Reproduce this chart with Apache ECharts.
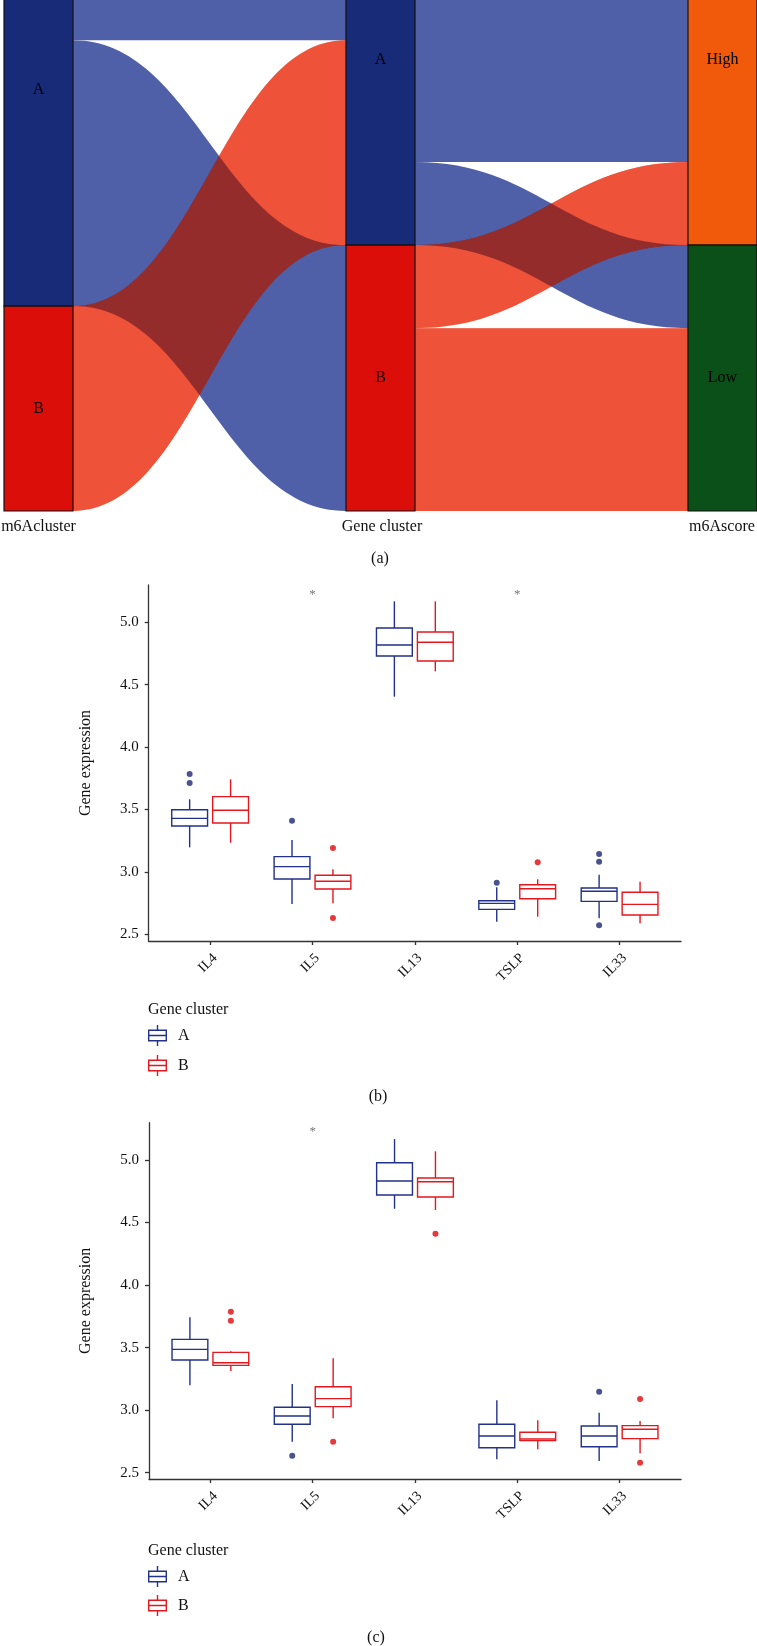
<!DOCTYPE html>
<html><head><meta charset="utf-8">
<script src="https://cdn.jsdelivr.net/npm/echarts@6/dist/echarts.min.js"></script>
<style>html,body{margin:0;padding:0;background:#fff}#c{width:757px;height:1646px}</style>
</head><body><div id="c"></div>
<script>
// ===================== DATA =====================
// (a) alluvial / sankey
const sankeyColumns = ['m6Acluster', 'Gene cluster', 'm6Ascore'];
const sankeyNodeIds = ['m6A-A', 'm6A-B', 'gene-A', 'gene-B', 'score-High', 'score-Low'];
const sankeyNodeLabels = ['A', 'B', 'A', 'B', 'High', 'Low'];
const flowSource = ['m6A-A', 'm6A-A', 'm6A-B', 'gene-A', 'gene-A', 'gene-B', 'gene-B'];
const flowTarget = ['gene-A', 'gene-B', 'gene-A', 'score-High', 'score-Low', 'score-High', 'score-Low'];
const flowCount  = [30, 48, 37, 52, 15, 15, 33];

// (b)/(c) boxplots: per gene [lower whisker, Q1, median, Q3, upper whisker]
const genes = ['IL4', 'IL5', 'IL13', 'TSLP', 'IL33'];
const yTicks = [2.5, 3.0, 3.5, 4.0, 4.5, 5.0];

const bBoxA = [
  [3.197, 3.368, 3.429, 3.498, 3.582],
  [2.743, 2.943, 3.042, 3.122, 3.256],
  [4.404, 4.730, 4.818, 4.954, 5.168],
  [2.601, 2.700, 2.748, 2.769, 2.877],
  [2.628, 2.764, 2.845, 2.871, 2.978]
];
const bBoxB = [
  [3.234, 3.392, 3.494, 3.603, 3.742],
  [2.748, 2.863, 2.925, 2.973, 3.021],
  [4.607, 4.690, 4.840, 4.922, 5.168],
  [2.641, 2.785, 2.865, 2.897, 2.941],
  [2.588, 2.655, 2.740, 2.837, 2.921]
];
const bOutA = [['IL4', 3.784], ['IL4', 3.712], ['IL5', 3.410], ['TSLP', 2.914], ['IL33', 3.143], ['IL33', 3.082], ['IL33', 2.572]];
const bOutB = [['IL5', 3.192], ['IL5', 2.631], ['TSLP', 3.077]];
const bStars = ['IL5', 'TSLP'];

const cBoxA = [
  [3.199, 3.401, 3.486, 3.566, 3.742],
  [2.748, 2.887, 2.953, 3.023, 3.209],
  [4.610, 4.720, 4.832, 4.978, 5.167],
  [2.607, 2.700, 2.793, 2.887, 3.079],
  [2.594, 2.708, 2.793, 2.873, 2.980]
];
const cBoxB = [
  [3.313, 3.358, 3.379, 3.462, 3.470],
  [2.935, 3.028, 3.092, 3.187, 3.414],
  [4.600, 4.704, 4.826, 4.856, 5.069],
  [2.687, 2.756, 2.769, 2.823, 2.919],
  [2.655, 2.772, 2.847, 2.876, 2.913]
];
const cOutA = [['IL5', 2.636], ['IL33', 3.147]];
const cOutB = [['IL4', 3.787], ['IL4', 3.715], ['IL5', 2.748], ['IL13', 4.411], ['IL33', 3.089], ['IL33', 2.580]];
const cStars = ['IL5'];
const starLevel = 5.225;

// ===================== STYLE =====================
const SERIF = '"Liberation Serif", "DejaVu Serif", serif';
const nodeColor = {
  'm6A-A': '#172B78', 'm6A-B': '#DC0E0A', 'gene-A': '#172B78', 'gene-B': '#DC0E0A',
  'score-High': '#F05A0A', 'score-Low': '#0B5018'
};
const FLOW_BLUE = '#5060A8';
const FLOW_RED_MULT = 'rgb(236,111,64)';
const FLOW_RED_TOP = 'rgb(242,47,47)';
const COL_A = '#223189', COL_B = '#E5171E';
const DOT_A = '#1B2873', DOT_B = '#E0080C';
const DODGE = 0.2, BOX_W = 0.35;
const BOX_ICON = 'path://M8.8,0H10.2V4.5H19V16.5H10.2V21H8.8V16.5H0V4.5H8.8Z M1.4,5.9V15.1H17.6V5.9Z M1.4,9.8H17.6V11.2H1.4Z';

function isBlueFlow(i) { return flowSource[i].endsWith('-A'); }

function sankeyLayer(layer) {
  // layer 0: nodes + blue flows; layer 1: red flows (multiply); layer 2: red flows (overlay)
  const s = {
    type: 'sankey', left: 4, top: -126, width: 753, height: 637,
    nodeWidth: 69, nodeGap: 0, layoutIterations: 0, draggable: false,
    emphasis: { disabled: true },
    lineStyle: { curveness: 0.45 },
    label: { show: layer === 0, position: 'inside', color: '#000', fontSize: 16, fontFamily: SERIF },
    data: sankeyNodeIds.map((id, i) => ({
      name: id,
      itemStyle: layer === 0
        ? { color: nodeColor[id], borderColor: '#111', borderWidth: 1.2 }
        : { color: nodeColor[id], opacity: 0, borderWidth: 0 },
      label: { formatter: sankeyNodeLabels[i] }
    })),
    links: flowCount.map((v, i) => {
      const blue = isBlueFlow(i);
      let ls;
      if (layer === 0) ls = blue ? { color: FLOW_BLUE, opacity: 1 } : { color: FLOW_BLUE, opacity: 0 };
      else if (layer === 1) ls = blue ? { color: FLOW_RED_MULT, opacity: 0 } : { color: FLOW_RED_MULT, opacity: 1 };
      else ls = blue ? { color: FLOW_RED_TOP, opacity: 0 } : { color: FLOW_RED_TOP, opacity: 0.45 };
      return { source: flowSource[i], target: flowTarget[i], value: v, lineStyle: ls };
    })
  };
  if (layer === 1) s.blendMode = 'multiply';
  return s;
}

function boxRenderer(color) {
  return function (params, api) {
    const x = api.value(0);
    const lo = api.coord([x, api.value(1)]);
    const q1 = api.coord([x, api.value(2)]);
    const md = api.coord([x, api.value(3)]);
    const q3 = api.coord([x, api.value(4)]);
    const hi = api.coord([x, api.value(5)]);
    const hw = api.size([BOX_W, 0])[0] / 2;
    const st = { stroke: color, lineWidth: 1.4, fill: null };
    return {
      type: 'group', children: [
        { type: 'line', shape: { x1: lo[0], y1: lo[1], x2: q1[0], y2: q1[1] }, style: st },
        { type: 'line', shape: { x1: q3[0], y1: q3[1], x2: hi[0], y2: hi[1] }, style: st },
        { type: 'rect', shape: { x: q1[0] - hw, y: q3[1], width: 2 * hw, height: q1[1] - q3[1] }, style: { stroke: color, lineWidth: 1.4, fill: '#fff' } },
        { type: 'line', shape: { x1: md[0] - hw, y1: md[1], x2: md[0] + hw, y2: md[1] }, style: st }
      ]
    };
  };
}

function boxSeries(name, boxes, off, color, gi) {
  return {
    type: 'custom', name: name, xAxisIndex: gi, yAxisIndex: gi,
    itemStyle: { color: color },
    renderItem: boxRenderer(color),
    encode: { x: 0, y: [1, 2, 3, 4, 5] },
    data: boxes.map((b, i) => [i + 1 + off].concat(b)),
    silent: true
  };
}
function outSeries(name, pts, off, color, gi) {
  return {
    type: 'scatter', name: name, xAxisIndex: gi, yAxisIndex: gi,
    symbol: 'circle', symbolSize: 6, itemStyle: { color: color },
    data: pts.map(p => [genes.indexOf(p[0]) + 1 + off, p[1]]),
    silent: true, z: 3
  };
}
function starSeries(list, gi) {
  return {
    type: 'scatter', name: 'sig', xAxisIndex: gi, yAxisIndex: gi,
    symbol: 'circle', symbolSize: 1, itemStyle: { color: 'rgba(0,0,0,0)' },
    label: { show: true, position: 'inside', formatter: '*', fontSize: 13, color: '#555', fontFamily: SERIF },
    data: list.map(g => [genes.indexOf(g) + 1, starLevel]),
    silent: true, z: 4
  };
}

const axisLineStyle = { color: '#333', width: 1.3 };
function xAx(gi) {
  return {
    gridIndex: gi, type: 'value', min: 0.4, max: 5.6,
    axisLine: { show: true, onZero: false, lineStyle: axisLineStyle },
    axisTick: { show: true, length: 4, customValues: [1, 2, 3, 4, 5], lineStyle: axisLineStyle },
    axisLabel: {
      customValues: [1, 2, 3, 4, 5], formatter: v => genes[Math.round(v) - 1] || '',
      rotate: 45, align: 'right', verticalAlign: 'top', margin: 10,
      fontSize: 14, fontFamily: SERIF, color: '#111'
    },
    splitLine: { show: false }
  };
}
function yAx(gi, mn, mx) {
  return {
    gridIndex: gi, type: 'value', min: mn, max: mx,
    axisLine: { show: true, onZero: false, lineStyle: axisLineStyle },
    axisTick: { show: true, length: 4, customValues: yTicks, lineStyle: axisLineStyle },
    axisLabel: {
      customValues: yTicks, formatter: v => v.toFixed(1), margin: 10,
      fontSize: 15, fontFamily: SERIF, color: '#111'
    },
    splitLine: { show: false },
    name: 'Gene expression', nameLocation: 'middle', nameGap: 55,
    nameTextStyle: { fontSize: 16, fontFamily: SERIF, color: '#111' }
  };
}
function legendFor(top, gap) {
  return {
    orient: 'vertical', left: 148, top: top, padding: 0, itemGap: gap,
    itemWidth: 19, itemHeight: 21, selectedMode: false,
    textStyle: { fontSize: 16, fontFamily: SERIF, color: '#111', padding: [0, 0, 0, 6] },
    data: [
      { name: 'A', icon: BOX_ICON, itemStyle: { color: COL_A, borderWidth: 0 } },
      { name: 'B', icon: BOX_ICON, itemStyle: { color: COL_B, borderWidth: 0 } }
    ]
  };
}
function txt(s, x, y, align) {
  return { type: 'text', x: x, y: y, silent: true,
    style: { text: s, fontSize: 16, fontFamily: SERIF, fill: '#111', align: align || 'center', verticalAlign: 'middle' } };
}

const chart = echarts.init(document.getElementById('c'), null, { renderer: 'canvas' });
chart.setOption({
  animation: false,
  backgroundColor: '#fff',
  grid: [
    { left: 148.7, top: 585, width: 532.3, height: 356, outerBoundsMode: 'none' },
    { left: 149, top: 1122.7, width: 532, height: 356.3, outerBoundsMode: 'none' }
  ],
  xAxis: [xAx(0), xAx(1)],
  yAxis: [yAx(0, 2.4463, 5.2989), yAx(1, 2.4496, 5.298)],
  legend: [legendFor(1025, 9), legendFor(1566, 8)],
  graphic: [
    txt(sankeyColumns[0], 38.5, 527),
    txt(sankeyColumns[1], 382, 527),
    txt(sankeyColumns[2], 722, 527),
    txt('(a)', 380, 559),
    txt('Gene cluster', 148, 1010, 'left'),
    txt('(b)', 378, 1097),
    txt('Gene cluster', 148, 1551, 'left'),
    txt('(c)', 376, 1638)
  ],
  series: [
    sankeyLayer(0), sankeyLayer(1), sankeyLayer(2),
    boxSeries('A', bBoxA, -DODGE, COL_A, 0),
    boxSeries('B', bBoxB, DODGE, COL_B, 0),
    outSeries('A', bOutA, -DODGE, DOT_A, 0),
    outSeries('B', bOutB, DODGE, DOT_B, 0),
    starSeries(bStars, 0),
    boxSeries('A', cBoxA, -DODGE, COL_A, 1),
    boxSeries('B', cBoxB, DODGE, COL_B, 1),
    outSeries('A', cOutA, -DODGE, DOT_A, 1),
    outSeries('B', cOutB, DODGE, DOT_B, 1),
    starSeries(cStars, 1)
  ]
});
</script></body></html>
